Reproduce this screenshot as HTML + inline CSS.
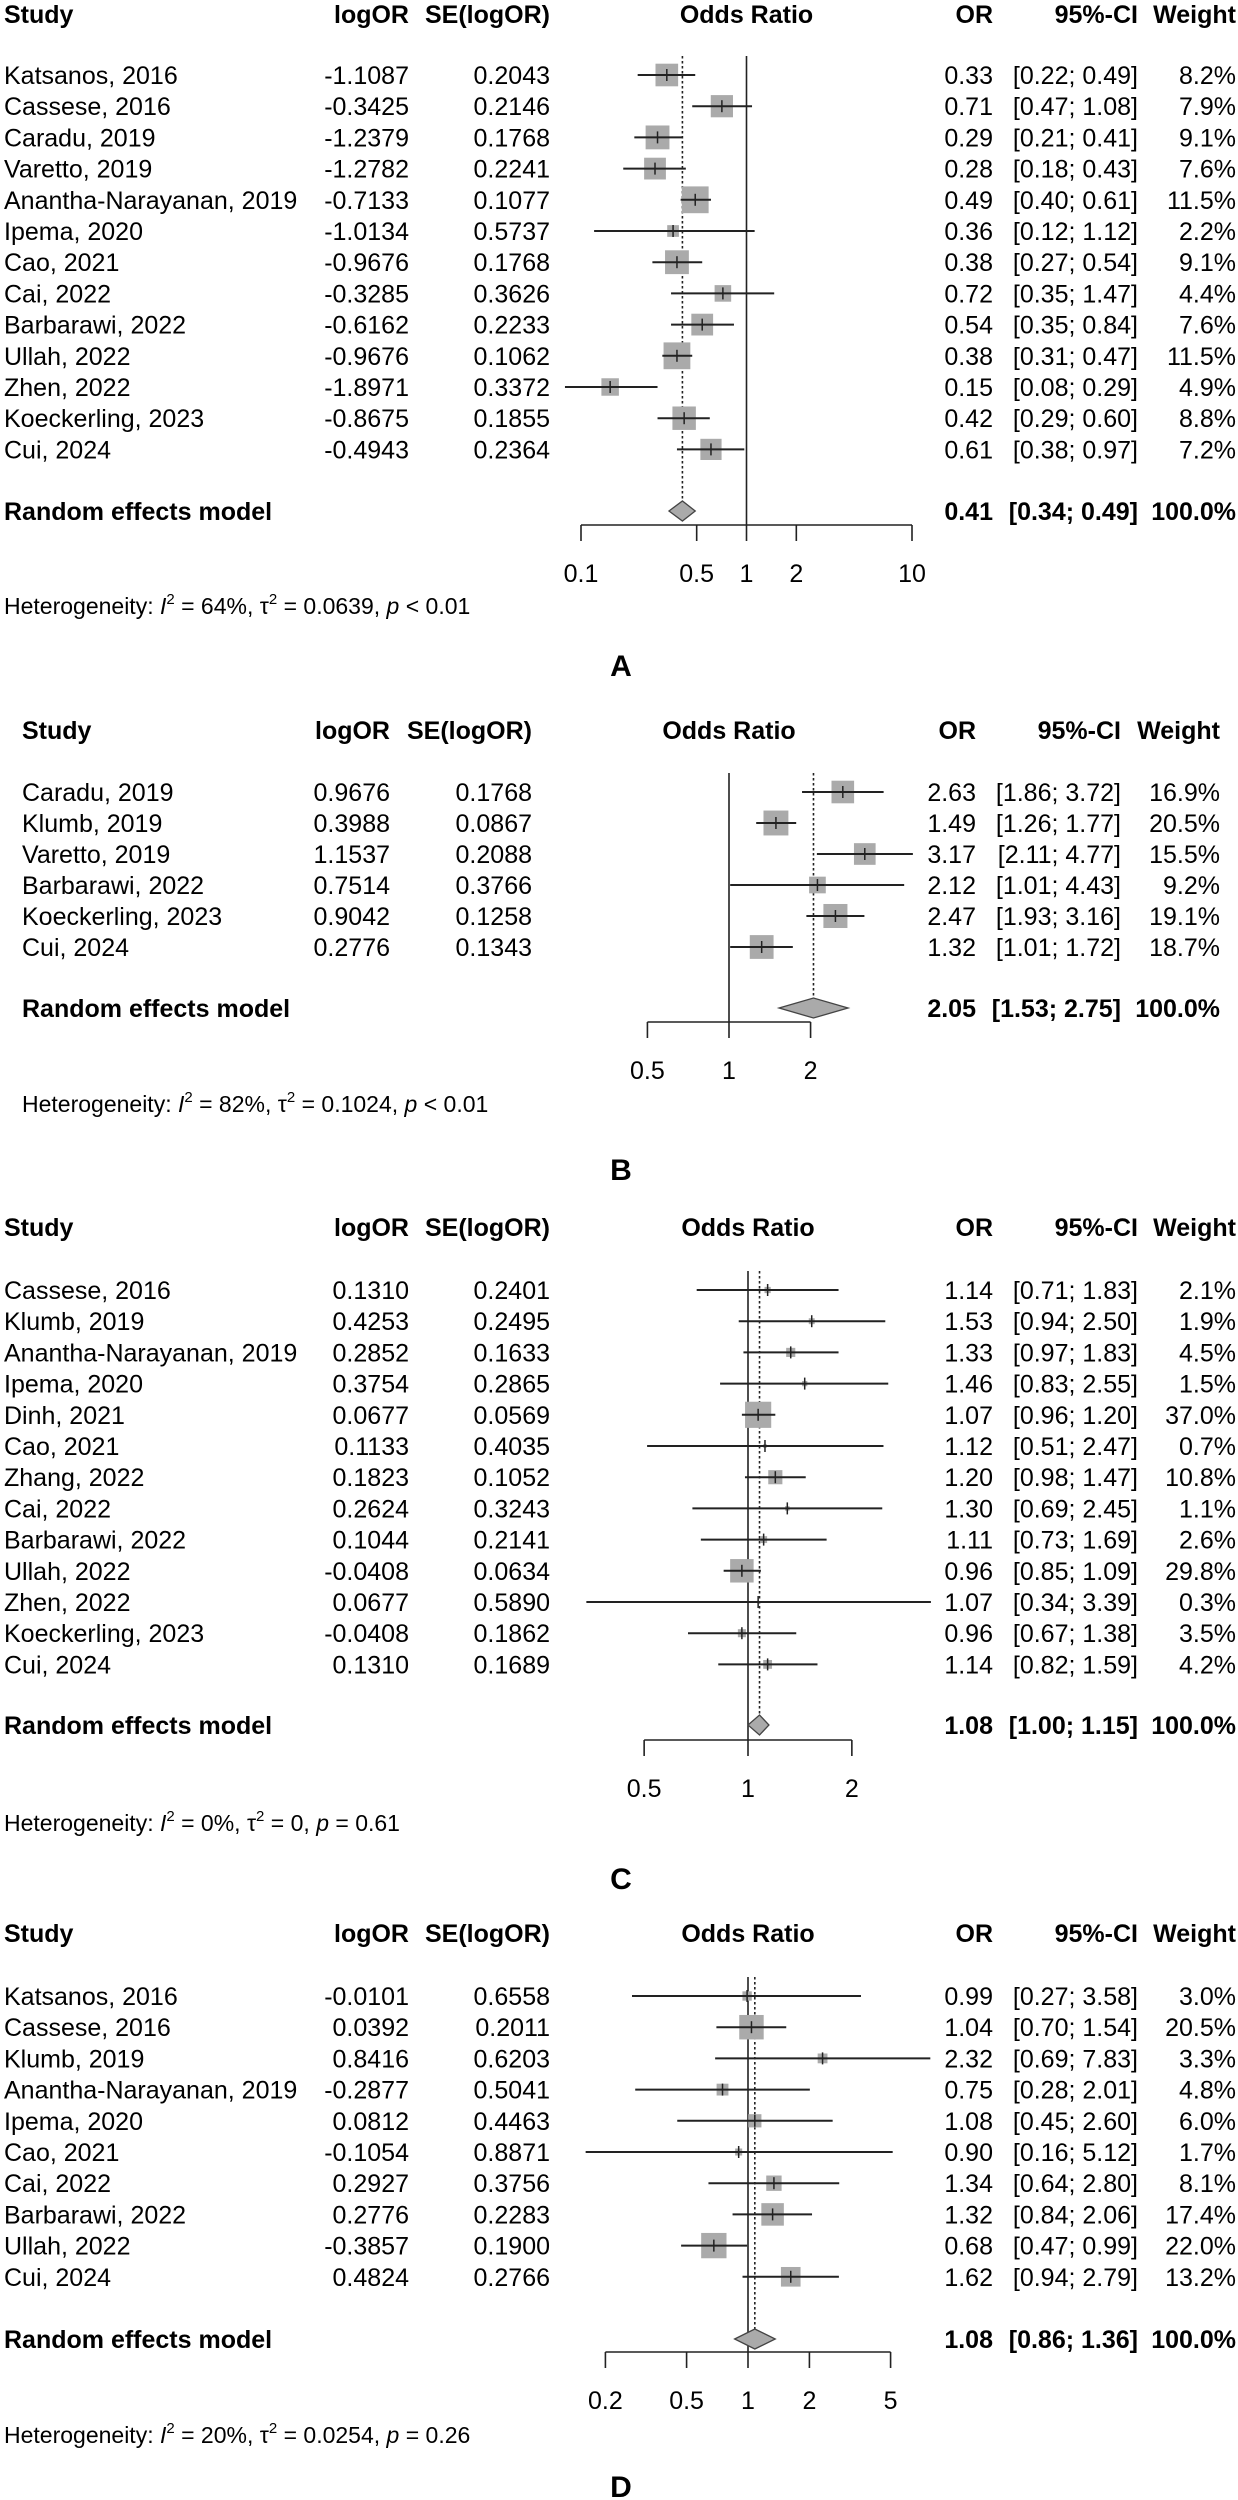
<!DOCTYPE html>
<html><head><meta charset="utf-8"><style>
html,body{margin:0;padding:0;background:#fff;}
svg{display:block;font-family:"Liberation Sans",Arial,sans-serif;}
</style></head><body>
<svg id="fig" width="1238" height="2500" viewBox="0 0 1238 2500" xmlns="http://www.w3.org/2000/svg"></svg>
<script>
// ---------- Panel A data ----------
const aStudies=["Katsanos, 2016","Cassese, 2016","Caradu, 2019","Varetto, 2019","Anantha-Narayanan, 2019","Ipema, 2020","Cao, 2021","Cai, 2022","Barbarawi, 2022","Ullah, 2022","Zhen, 2022","Koeckerling, 2023","Cui, 2024"];
const aLogOR=["-1.1087","-0.3425","-1.2379","-1.2782","-0.7133","-1.0134","-0.9676","-0.3285","-0.6162","-0.9676","-1.8971","-0.8675","-0.4943"];
const aSE=["0.2043","0.2146","0.1768","0.2241","0.1077","0.5737","0.1768","0.3626","0.2233","0.1062","0.3372","0.1855","0.2364"];
const aOR=[0.33,0.71,0.29,0.28,0.49,0.36,0.38,0.72,0.54,0.38,0.15,0.42,0.61];
const aLo=[0.22,0.47,0.21,0.18,0.40,0.12,0.27,0.35,0.35,0.31,0.08,0.29,0.38];
const aHi=[0.49,1.08,0.41,0.43,0.61,1.12,0.54,1.47,0.84,0.47,0.29,0.60,0.97];
const aW=[8.2,7.9,9.1,7.6,11.5,2.2,9.1,4.4,7.6,11.5,4.9,8.8,7.2];
const aPooled=[0.41,0.34,0.49];
const aTicks=[0.1,0.5,1,2,10];
const aHet=["64%","0.0639","p","< 0.01"];
// ---------- Panel B data ----------
const bStudies=["Caradu, 2019","Klumb, 2019","Varetto, 2019","Barbarawi, 2022","Koeckerling, 2023","Cui, 2024"];
const bLogOR=["0.9676","0.3988","1.1537","0.7514","0.9042","0.2776"];
const bSE=["0.1768","0.0867","0.2088","0.3766","0.1258","0.1343"];
const bOR=[2.63,1.49,3.17,2.12,2.47,1.32];
const bLo=[1.86,1.26,2.11,1.01,1.93,1.01];
const bHi=[3.72,1.77,4.77,4.43,3.16,1.72];
const bW=[16.9,20.5,15.5,9.2,19.1,18.7];
const bPooled=[2.05,1.53,2.75];
const bTicks=[0.5,1,2];
const bHet=["82%","0.1024","p","< 0.01"];
// ---------- Panel C data ----------
const cStudies=["Cassese, 2016","Klumb, 2019","Anantha-Narayanan, 2019","Ipema, 2020","Dinh, 2021","Cao, 2021","Zhang, 2022","Cai, 2022","Barbarawi, 2022","Ullah, 2022","Zhen, 2022","Koeckerling, 2023","Cui, 2024"];
const cLogOR=["0.1310","0.4253","0.2852","0.3754","0.0677","0.1133","0.1823","0.2624","0.1044","-0.0408","0.0677","-0.0408","0.1310"];
const cSE=["0.2401","0.2495","0.1633","0.2865","0.0569","0.4035","0.1052","0.3243","0.2141","0.0634","0.5890","0.1862","0.1689"];
const cOR=[1.14,1.53,1.33,1.46,1.07,1.12,1.20,1.30,1.11,0.96,1.07,0.96,1.14];
const cLo=[0.71,0.94,0.97,0.83,0.96,0.51,0.98,0.69,0.73,0.85,0.34,0.67,0.82];
const cHi=[1.83,2.50,1.83,2.55,1.20,2.47,1.47,2.45,1.69,1.09,3.39,1.38,1.59];
const cW=[2.1,1.9,4.5,1.5,37.0,0.7,10.8,1.1,2.6,29.8,0.3,3.5,4.2];
const cPooled=[1.08,1.00,1.15];
const cTicks=[0.5,1,2];
const cHet=["0%","0","p","= 0.61"];
// ---------- Panel D data ----------
const dStudies=["Katsanos, 2016","Cassese, 2016","Klumb, 2019","Anantha-Narayanan, 2019","Ipema, 2020","Cao, 2021","Cai, 2022","Barbarawi, 2022","Ullah, 2022","Cui, 2024"];
const dLogOR=["-0.0101","0.0392","0.8416","-0.2877","0.0812","-0.1054","0.2927","0.2776","-0.3857","0.4824"];
const dSE=["0.6558","0.2011","0.6203","0.5041","0.4463","0.8871","0.3756","0.2283","0.1900","0.2766"];
const dOR=[0.99,1.04,2.32,0.75,1.08,0.90,1.34,1.32,0.68,1.62];
const dLo=[0.27,0.70,0.69,0.28,0.45,0.16,0.64,0.84,0.47,0.94];
const dHi=[3.58,1.54,7.83,2.01,2.60,5.12,2.80,2.06,0.99,2.79];
const dW=[3.0,20.5,3.3,4.8,6.0,1.7,8.1,17.4,22.0,13.2];
const dPooled=[1.08,0.86,1.36];
const dTicks=[0.2,0.5,1,2,5];
const dHet=["20%","0.0254","p","= 0.26"];

const NS="http://www.w3.org/2000/svg";
const svg=document.getElementById('fig');
function mk(tag,attrs,parent,text){
  const e=document.createElementNS(NS,tag);
  for(const k in attrs)e.setAttribute(k,attrs[k]);
  if(text!==undefined)e.textContent=text;
  (parent||svg).appendChild(e);return e;
}
function f2(v){return v.toFixed(2);}
function txt(g,x,y,s,anchor,bold,name){
  const t=mk('text',{x:x,y:y,'font-size':25,'text-anchor':anchor,'font-weight':bold?'bold':'normal',fill:'#000'},g,s);
  
  
  return t;
}

function panel(id,L,studies,logor,se,ors,lo,hi,w,pooled,ticks,het,letter,letterY){
  const g=mk('g',{});
  
  
  const xs=v=>L.x1+Math.log10(v)*L.ppl;
  const ry=i=>L.row0+i*L.step;
  const hb=L.head+9;
  txt(g,L.cStudy,hb,"Study",'start',true,'study-header');
  txt(g,L.cLog,hb,"logOR",'end',true,'logor-header');
  txt(g,L.cSE,hb,"SE(logOR)",'end',true,'se-header');
  txt(g,L.x1,hb,"Odds Ratio",'middle',true,'odds-ratio-header');
  txt(g,L.cOR,hb,"OR",'end',true,'or-header');
  txt(g,L.cCI,hb,"95%-CI",'end',true,'ci-header');
  txt(g,L.cW,hb,"Weight",'end',true,'weight-header');
  const top=L.row0-19;
  // reference line at 1
  let ln=mk('line',{x1:xs(1),x2:xs(1),y1:top,y2:L.axis,stroke:'#222','stroke-width':1.6},g);
  
  
  // dashed pooled line
  ln=mk('line',{x1:xs(pooled[0]),x2:xs(pooled[0]),y1:top,y2:L.rand-10,stroke:'#222','stroke-width':1.6,'stroke-dasharray':'2.5,2.5'},g);
  
  
  for(let i=0;i<studies.length;i++){
    const y=ry(i), b=y+9;
    txt(g,L.cStudy,b,studies[i],'start',false,'study-name');
    txt(g,L.cLog,b,logor[i],'end',false,'logor-value');
    txt(g,L.cSE,b,se[i],'end',false,'se-value');
    txt(g,L.cOR,b,f2(ors[i]),'end',false,'or-value');
    txt(g,L.cCI,b,"["+f2(lo[i])+"; "+f2(hi[i])+"]",'end',false,'ci-value');
    txt(g,L.cW,b,w[i].toFixed(1)+"%",'end',false,'weight-value');
    const s=L.k*Math.sqrt(w[i]), cx=xs(ors[i]);
    const r=mk('rect',{x:cx-s/2,y:y-s/2,width:s,height:s,fill:'#aaaaaa'},g);
    
    
    const c=mk('line',{x1:xs(lo[i]),x2:xs(hi[i]),y1:y,y2:y,stroke:'#222','stroke-width':2},g);
    
    
    const m=mk('line',{x1:cx,x2:cx,y1:y-6,y2:y+6,stroke:'#222','stroke-width':1.5},g);
    
    
  }
  // pooled
  const rb=L.rand+9;
  txt(g,L.cStudy,rb,"Random effects model",'start',true,'random-effects-label');
  txt(g,L.cOR,rb,f2(pooled[0]),'end',true,'pooled-or');
  txt(g,L.cCI,rb,"["+f2(pooled[1])+"; "+f2(pooled[2])+"]",'end',true,'pooled-ci');
  txt(g,L.cW,rb,"100.0%",'end',true,'pooled-weight');
  const y=L.rand;
  const dm=mk('polygon',{points:`${xs(pooled[1])},${y} ${xs(pooled[0])},${y-10} ${xs(pooled[2])},${y} ${xs(pooled[0])},${y+10}`,fill:'#aaaaaa',stroke:'#444','stroke-width':1.3},g);
  
  
  // axis
  const ax=mk('line',{x1:xs(ticks[0]),x2:xs(ticks[ticks.length-1]),y1:L.axis,y2:L.axis,stroke:'#222','stroke-width':1.6},g);
  
  
  for(const t of ticks){
    const tk=mk('line',{x1:xs(t),x2:xs(t),y1:L.axis,y2:L.axis+16,stroke:'#222','stroke-width':1.6},g);
    
    
    txt(g,xs(t),L.axis+57,String(t),'middle',false,'x-tick-label');
  }
  // heterogeneity
  const h=mk('text',{x:L.cStudy,y:L.het+9,'font-size':23,fill:'#000'},g);
  
  
  mk('tspan',{},h,"Heterogeneity: ");
  mk('tspan',{'font-style':'italic'},h,"I");
  mk('tspan',{'font-size':15,dy:-10},h,"2");
  mk('tspan',{dy:10},h," = "+het[0]+", \u03C4");
  mk('tspan',{'font-size':15,dy:-10},h,"2");
  mk('tspan',{dy:10},h," = "+het[1]+", ");
  mk('tspan',{'font-style':'italic'},h,het[2]);
  mk('tspan',{},h," "+het[3]);
  const lt=mk('text',{x:621,y:letterY+11,'font-size':30,'font-weight':'bold','text-anchor':'middle',fill:'#000'},g,letter);
  
  
}
const colsStd={cStudy:4,cLog:409,cSE:550,cOR:993,cCI:1138,cW:1236};
panel('a',Object.assign({},colsStd,{head:14,row0:75,step:31.2,rand:511,axis:525,het:605,x1:746.5,ppl:165.5,k:7.9}),
  aStudies,aLogOR,aSE,aOR,aLo,aHi,aW,aPooled,aTicks,aHet,"A",665);
panel('b',{cStudy:22,cLog:390,cSE:532,cOR:976,cCI:1121,cW:1220,head:730,row0:792,step:31,rand:1008,axis:1022,het:1103,x1:729,ppl:271,k:5.5},
  bStudies,bLogOR,bSE,bOR,bLo,bHi,bW,bPooled,bTicks,bHet,"B",1169);
panel('c',Object.assign({},colsStd,{head:1227,row0:1290,step:31.2,rand:1725,axis:1740,het:1822,x1:748,ppl:345,k:4.3}),
  cStudies,cLogOR,cSE,cOR,cLo,cHi,cW,cPooled,cTicks,cHet,"C",1878);
panel('d',Object.assign({},colsStd,{head:1933,row0:1996,step:31.2,rand:2339,axis:2352,het:2434,x1:748,ppl:204,k:5.4}),
  dStudies,dLogOR,dSE,dOR,dLo,dHi,dW,dPooled,dTicks,dHet,"D",2486);
</script>
</body></html>
